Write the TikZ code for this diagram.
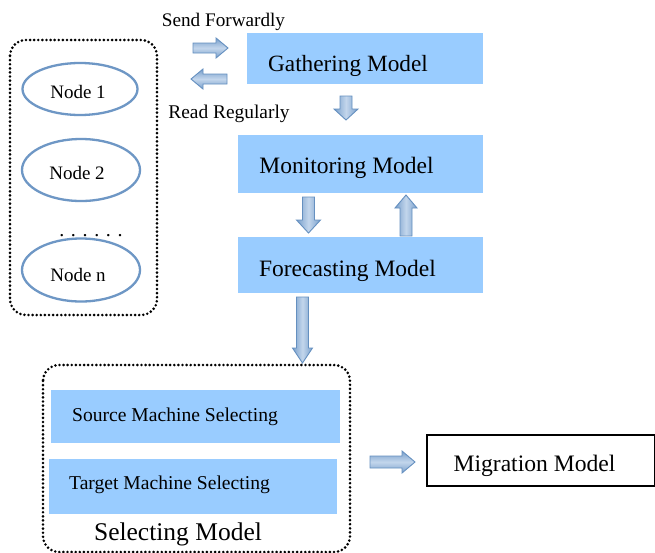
\documentclass[tikz,border=0pt]{standalone}
\usepackage{fontspec}
\setmainfont{Liberation Serif}
\definecolor{boxblue}{HTML}{99CCFF}
\definecolor{arrowedge}{HTML}{6590C0}
\definecolor{arrowdark}{HTML}{789FCB}
\definecolor{arrowlight}{HTML}{C3D6EC}
\definecolor{ellblue}{HTML}{6E97C5}
\newcommand{\fsz}[1]{\fontsize{#1}{#1}\selectfont}
% block arrows: start, end, fixed coordinate, shaft half, head half, head length
\newcommand{\myArrR}[6]{\draw[barrowh] (#1,#3-#4) -- (#2-#6,#3-#4) -- (#2-#6,#3-#5) -- (#2,#3) -- (#2-#6,#3+#5) -- (#2-#6,#3+#4) -- (#1,#3+#4) -- cycle;}
\newcommand{\myArrL}[6]{\draw[barrowh] (#1,#3-#4) -- (#2+#6,#3-#4) -- (#2+#6,#3-#5) -- (#2,#3) -- (#2+#6,#3+#5) -- (#2+#6,#3+#4) -- (#1,#3+#4) -- cycle;}
\newcommand{\myArrD}[6]{\draw[barrowv] (#3-#4,#1) -- (#3-#4,#2-#6) -- (#3-#5,#2-#6) -- (#3,#2) -- (#3+#5,#2-#6) -- (#3+#4,#2-#6) -- (#3+#4,#1) -- cycle;}
\newcommand{\myArrU}[6]{\draw[barrowv] (#3-#4,#1) -- (#3-#4,#2+#6) -- (#3-#5,#2+#6) -- (#3,#2) -- (#3+#5,#2+#6) -- (#3+#4,#2+#6) -- (#3+#4,#1) -- cycle;}
\tikzset{
  modelbox/.style={fill=boxblue, draw=none, inner sep=0pt},
  dotbox/.style={draw=black, line width=2.9pt, dash pattern=on 0pt off 4.1pt, line cap=round, rounded corners=16pt},
  nodeell/.style={ellipse, draw=ellblue, line width=2.3pt, inner sep=0pt},
  barrowh/.style={draw=arrowedge, line width=0.9pt, line join=miter, top color=arrowdark, bottom color=arrowdark, middle color=arrowlight},
  barrowv/.style={draw=arrowedge, line width=0.9pt, line join=miter, left color=arrowdark, right color=arrowdark, middle color=arrowlight},
  lbl/.style={inner sep=0pt, text=black},
}
\usetikzlibrary{shapes.geometric}
\begin{document}
\begin{tikzpicture}[x=1pt,y=-1pt]
\useasboundingbox (0,0) rectangle (655,552);
\fill[white] (0,0) rectangle (655,552);

% left group of nodes
\draw[dotbox] (10,40) rectangle (157,315);
\node[nodeell, minimum width=115pt, minimum height=52pt] (n1) at (80,89) {};
\node[nodeell, minimum width=118pt, minimum height=62pt] (n2) at (81,170) {};
\node[nodeell, minimum width=118pt, minimum height=63pt] (nn) at (81,270) {};
\node[lbl] (t1) at (78,92) {\fsz{19}Node 1};
\node[lbl] (t2) at (77,173) {\fsz{19}Node 2};
\node[lbl] (tn) at (78,275) {\fsz{19}Node n};
\node[lbl] (dots) at (91,236) {\fsz{20}. . . . . .};

% model boxes
\node[modelbox, minimum width=236pt, minimum height=51pt] (gath) at (365,58.5) {};
\node[modelbox, minimum width=245pt, minimum height=58pt] (mon) at (360.5,164) {};
\node[modelbox, minimum width=245pt, minimum height=56pt] (fore) at (360.5,265) {};
\node[lbl] (gatht) at (348,65.5) {\fsz{23.3}Gathering Model};
\node[lbl] (mont) at (346.5,167.5) {\fsz{23.5}Monitoring Model};
\node[lbl] (foret) at (347.5,270.5) {\fsz{23.5}Forecasting Model};

% labels of the top arrows
\node[lbl] (send) at (223.5,22) {\fsz{19.2}Send Forwardly};
\node[lbl] (read) at (229,114) {\fsz{19.4}Read Regularly};

% block arrows
\myArrR{193}{228}{48}{5}{10}{12}
\myArrL{227}{191}{79}{5}{10}{12}
\myArrD{96}{120}{346}{6}{12}{11}
\myArrD{197}{233}{308.5}{6}{12}{13}
\myArrU{236}{195}{406}{6}{11}{13}
\myArrD{297}{363}{302.5}{6}{10}{15}
\myArrR{370}{415}{462}{6}{11}{13}

% selecting model
\draw[dotbox] (43,365) rectangle (350,552);
\node[modelbox, minimum width=289pt, minimum height=53pt] (src) at (195.5,416.5) {};
\node[modelbox, minimum width=288pt, minimum height=55pt] (tgt) at (193,486.5) {};
\node[lbl] (srct) at (175,416.5) {\fsz{19.6}Source Machine Selecting};
\node[lbl] (tgtt) at (169.5,484.5) {\fsz{19.6}Target Machine Selecting};
\node[lbl] (selt) at (178,534) {\fsz{25.5}Selecting Model};

% migration model
\node[draw=black, line width=1.3pt, minimum width=228pt, minimum height=51pt, inner sep=0pt] (mig) at (541,460.5) {};
\node[lbl] (migt) at (534.5,465.5) {\fsz{23.6}Migration Model};
\end{tikzpicture}
\end{document}
